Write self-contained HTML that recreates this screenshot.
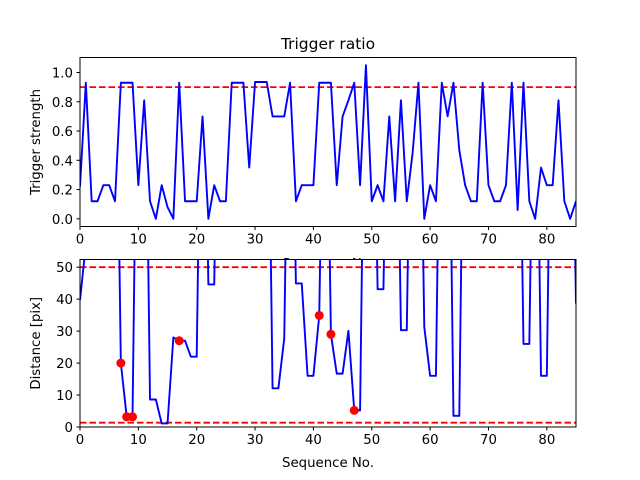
<!DOCTYPE html>
<html><head><meta charset="utf-8"><style>
html,body{margin:0;padding:0;background:#fff;}
svg{display:block;font-family:"DejaVu Sans","Liberation Sans",sans-serif;}
</style></head><body>
<svg id="chart" width="640" height="480" viewBox="0 0 640 480" xmlns="http://www.w3.org/2000/svg"></svg>
<script>
const xTicks=[0,10,20,30,40,50,60,70,80];
const ratioTicks=[0.0,0.2,0.4,0.6,0.8,1.0];
const ratioTickLabels=["0.0","0.2","0.4","0.6","0.8","1.0"];
const distTicks=[0,10,20,30,40,50];
const ratioThreshold=0.9;
const distUpper=50;
const distLower=1.35;
const ratio=[0.22,0.93,0.12,0.12,0.23,0.23,0.12,0.93,0.93,0.93,0.23,0.81,0.12,0.0,0.23,0.08,0.0,0.93,0.12,0.12,
0.12,0.70,0.0,0.23,0.12,0.12,0.93,0.93,0.93,0.35,0.935,0.935,0.935,0.70,0.70,0.70,0.93,0.12,0.23,0.23,
0.23,0.93,0.93,0.93,0.23,0.70,0.81,0.93,0.23,1.05,0.12,0.23,0.12,0.70,0.12,0.81,0.12,0.45,0.93,0.0,
0.23,0.12,0.93,0.70,0.93,0.47,0.23,0.12,0.12,0.93,0.23,0.12,0.12,0.23,0.93,0.06,0.93,0.12,0.0,0.35,
0.23,0.23,0.81,0.12,0.0,0.12];
const dist=[39.7,57,120,120,120,120,150,20,3.2,3.2,150,150,8.6,8.6,1.1,1.1,28,27,27,22,
22,150,44.6,44.6,150,150,150,150,150,150,150,150,150,12.1,12.1,27.7,150,44.9,44.9,16,
16,34.9,150,29,16.7,16.7,30.1,5.2,5.2,150,150,43.1,43.1,150,150,30.3,30.3,150,150,31.3,
16,16,150,150,3.5,3.5,150,150,150,150,150,150,150,150,150,150,26,26,150,16,
16,150,150,150,150,38.6];
const outlierX=[7,8,9,17,41,43,47];
const outlierY=[20,3.2,3.2,27,34.9,29,5.2];

const NS="http://www.w3.org/2000/svg";
const svg=document.getElementById('chart');
function mk(tag,attrs,parent){const e=document.createElementNS(NS,tag);for(const k in attrs)e.setAttribute(k,attrs[k]);(parent||svg).appendChild(e);return e;}
const L=80,R=576;
const X=v=>L+(v-0)/(85-0)*(R-L);
function panel(name,top,bot,ymin,ymax,data,ticks,tickLabels,thresholds,ylabel,xlabelY){
  const Y=v=>bot-(v-ymin)/(ymax-ymin)*(bot-top);
  const g=mk('g',{});
  
  
  const bg=mk('rect',{x:L,y:top,width:R-L,height:bot-top,fill:'#fff'},g);
  
  
  const cid=name+'-clip';
  const cp=mk('clipPath',{id:cid},g);mk('rect',{x:L,y:top,width:R-L,height:bot-top},cp);
  const pg=mk('g',{'clip-path':'url(#'+cid+')'},g);
  thresholds.forEach((t,i)=>{
    const ln=mk('line',{x1:L,x2:R,y1:Y(t),y2:Y(t),stroke:'#ff0000','stroke-width':1.8,'stroke-dasharray':'6.5,3'},pg);
    
    
  });
  const pts=data.map((v,i)=>X(i).toFixed(2)+','+Y(v).toFixed(2)).join(' ');
  const pl=mk('polyline',{points:pts,fill:'none',stroke:'#0000ff','stroke-width':1.9,'stroke-linejoin':'round'},pg);
  
  
  const fr=mk('rect',{x:L,y:top,width:R-L,height:bot-top,fill:'none',stroke:'#000','stroke-width':1},g);
  
  
  xTicks.forEach(t=>{
    mk('line',{x1:X(t),x2:X(t),y1:bot,y2:bot+3.5,stroke:'#000','stroke-width':1},g);
    const tx=mk('text',{x:X(t),y:bot+17,'text-anchor':'middle','font-size':13.3,fill:'#000'},g);
    tx.textContent=t;
    
    
  });
  ticks.forEach((t,i)=>{
    mk('line',{x1:L-3.5,x2:L,y1:Y(t),y2:Y(t),stroke:'#000','stroke-width':1},g);
    const tx=mk('text',{x:L-7,y:Y(t)+5,'text-anchor':'end','font-size':13.3,fill:'#000'},g);
    tx.textContent=tickLabels[i];
    
    
  });
  const yl=mk('text',{x:0,y:0,'text-anchor':'middle','font-size':13.3,fill:'#000',transform:'translate(40,'+((top+bot)/2)+') rotate(-90)'},g);
  yl.textContent=ylabel;
  
  
  const xl=mk('text',{x:(L+R)/2,y:xlabelY,'text-anchor':'middle','font-size':13.3,fill:'#000'},g);
  xl.textContent='Sequence No.';
  
  
  return {g,Y};
}
const title=mk('text',{x:328,y:49,'text-anchor':'middle','font-size':15.5,fill:'#000'});
title.textContent='Trigger ratio';


panel('trigger-panel',57.5,226.5,-0.0525,1.1025,ratio,ratioTicks,ratioTickLabels,[ratioThreshold],'Trigger strength',268);
const p2=panel('distance-panel',259.5,427,0,52.4,dist,distTicks,distTicks.map(String),[distUpper,distLower],'Distance [pix]',467);
outlierX.forEach((x,i)=>{
  const c=mk('circle',{cx:X(x),cy:p2.Y(outlierY[i]),r:4.5,fill:'#ff0000'},p2.g);
  
  
});
</script>
</body></html>
